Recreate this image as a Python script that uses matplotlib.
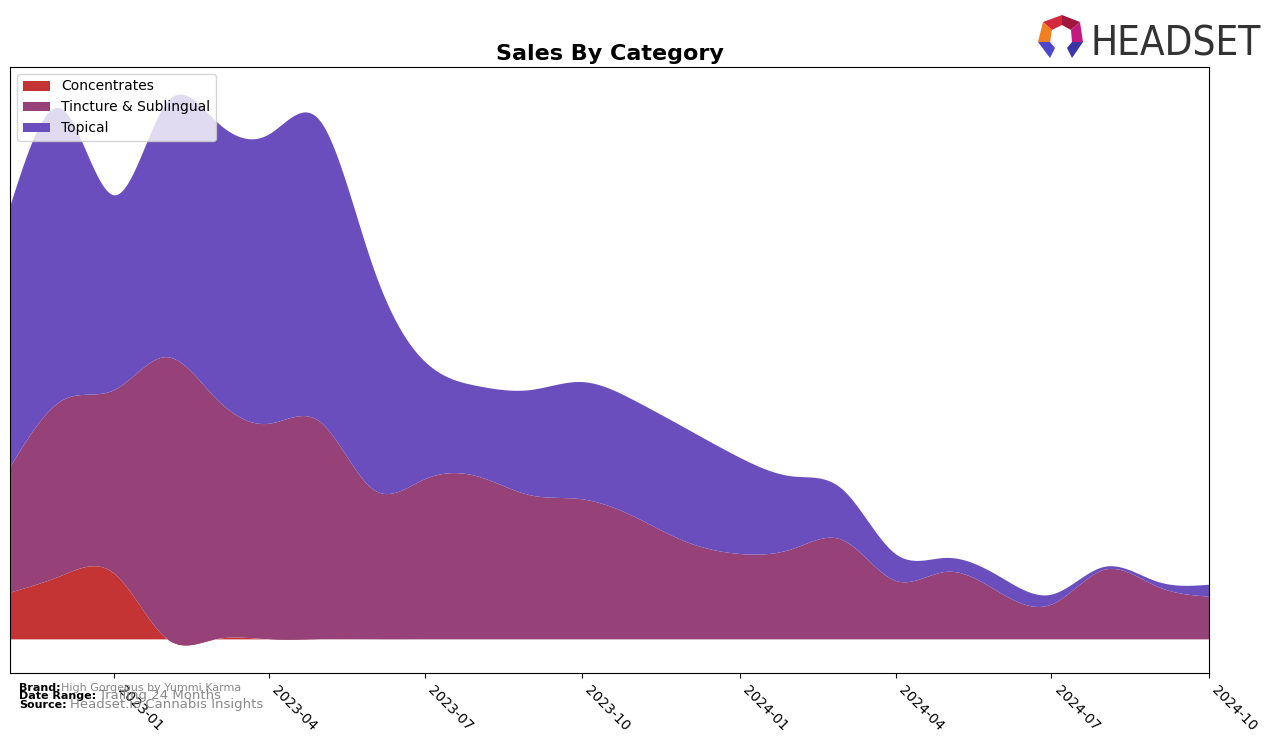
import numpy as np
import pandas as pd
import matplotlib
matplotlib.use("Agg")
import matplotlib.pyplot as plt
import matplotlib.dates as mdates
from matplotlib.patches import Polygon

# ---------------- data (monthly, arbitrary units) ----------------
months = pd.date_range("2022-11-01", "2024-10-01", freq="MS")
categories = ["Concentrates", "Tincture & Sublingual", "Topical"]
concentrates = [47, 64, 66, 0, 0, 0, 0, 0, 0, 0, 0, 0,
                0, 0, 0, 0, 0, 0, 0, 0, 0, 0, 0, 0]
tincture = [126, 176, 185, 284, 243, 217, 219, 151, 161, 164, 145, 141,
            123, 98, 86, 91, 100, 59, 68, 47, 35, 70, 53, 43]
topical = [262, 294, 196, 257, 279, 291, 303, 224, 119, 91, 106, 118,
           117, 114, 97, 73, 51, 27, 14, 16, 10, 3, 5, 12]
colors = ["#c43434", "#964278", "#6a4ebd"]
tick_labels = ["2023-01", "2023-04", "2023-07", "2023-10",
               "2024-01", "2024-04", "2024-07", "2024-10"]


def cubic_spline(x, y, xn):
    """Natural cubic spline through (x, y), evaluated at xn."""
    x = np.asarray(x, float)
    y = np.asarray(y, float)
    n = len(x) - 1
    h = np.diff(x)
    A = np.zeros((n + 1, n + 1))
    b = np.zeros(n + 1)
    A[0, 0] = 1.0
    A[n, n] = 1.0
    for i in range(1, n):
        A[i, i - 1] = h[i - 1]
        A[i, i] = 2 * (h[i - 1] + h[i])
        A[i, i + 1] = h[i]
        b[i] = 6 * ((y[i + 1] - y[i]) / h[i] - (y[i] - y[i - 1]) / h[i - 1])
    M = np.linalg.solve(A, b)
    idx = np.clip(np.searchsorted(x, xn) - 1, 0, n - 1)
    x0, x1 = x[idx], x[idx + 1]
    hh = x1 - x0
    return (M[idx] * (x1 - xn) ** 3 / (6 * hh)
            + M[idx + 1] * (xn - x0) ** 3 / (6 * hh)
            + (y[idx] / hh - M[idx] * hh / 6) * (x1 - xn)
            + (y[idx + 1] / hh - M[idx + 1] * hh / 6) * (xn - x0))


xm = mdates.date2num(months)
xf = np.linspace(xm[0], xm[-1], 2000)
series = [cubic_spline(xm, s, xf) for s in (concentrates, tincture, topical)]

# ---------------- figure ----------------
fig = plt.figure(figsize=(12.76, 7.43), dpi=100)
ax = fig.add_axes([10 / 1276, 1 - 673 / 743, 1199 / 1276, 606 / 743])
ax.stackplot(xf, *series, labels=categories, colors=colors)
ax.set_xlim(xm[0], xm[-1])
ax.margins(x=0)
ax.set_yticks([])
ticks = mdates.date2num(pd.to_datetime([t + "-01" for t in tick_labels]))
ax.set_xticks(ticks)
ax.set_xticklabels(tick_labels, rotation=-45, ha="left", fontsize=10)
ax.set_title("Sales By Category", fontsize=16, fontweight="bold", pad=5)
ax.legend(loc="upper left", fontsize=10)

# footer
fig.text(19 / 1276, 1 - 691 / 743, "Brand:", fontsize=8, fontweight="bold")
fig.text(61 / 1276, 1 - 691 / 743, "High Gorgeous by Yummi Karma", fontsize=8, color="#888888")
fig.text(19 / 1276, 1 - 699 / 743, "Date Range:", fontsize=8, fontweight="bold")
fig.text(99 / 1276, 1 - 699 / 743, "Trailing 24 Months", fontsize=9.5, color="#888888")
fig.text(19 / 1276, 1 - 708 / 743, "Source:", fontsize=8, fontweight="bold")
fig.text(70 / 1276, 1 - 708 / 743, "Headset.io Cannabis Insights", fontsize=9.5, color="#888888")

# logo
lax = fig.add_axes([0, 0, 1, 1], zorder=10)
lax.set_xlim(0, 1276)
lax.set_ylim(743, 0)
lax.axis("off")
facets = [
    ([(1043, 22), (1062, 15), (1062, 25), (1052, 30)], "#d42a3c"),
    ([(1062, 15), (1080, 22), (1071, 30), (1062, 25)], "#a0163f"),
    ([(1043, 22), (1052, 30), (1050, 42), (1038, 42)], "#f07f24"),
    ([(1080, 22), (1083, 42), (1072, 42), (1071, 30)], "#c4197f"),
    ([(1038, 42), (1050, 42), (1055, 48), (1050, 58)], "#4b47c8"),
    ([(1083, 42), (1072, 42), (1067, 48), (1072, 58)], "#3a36a8"),
]
for pts, c in facets:
    lax.add_patch(Polygon(pts, closed=True, facecolor=c, edgecolor="none"))
fig.text(1091 / 1276, 1 - 56 / 743, "HEADSET", fontsize=29, color="#333333",
         fontstretch="condensed", family="DejaVu Sans", ha="left", va="baseline")

fig.savefig("out.png", dpi=100)
